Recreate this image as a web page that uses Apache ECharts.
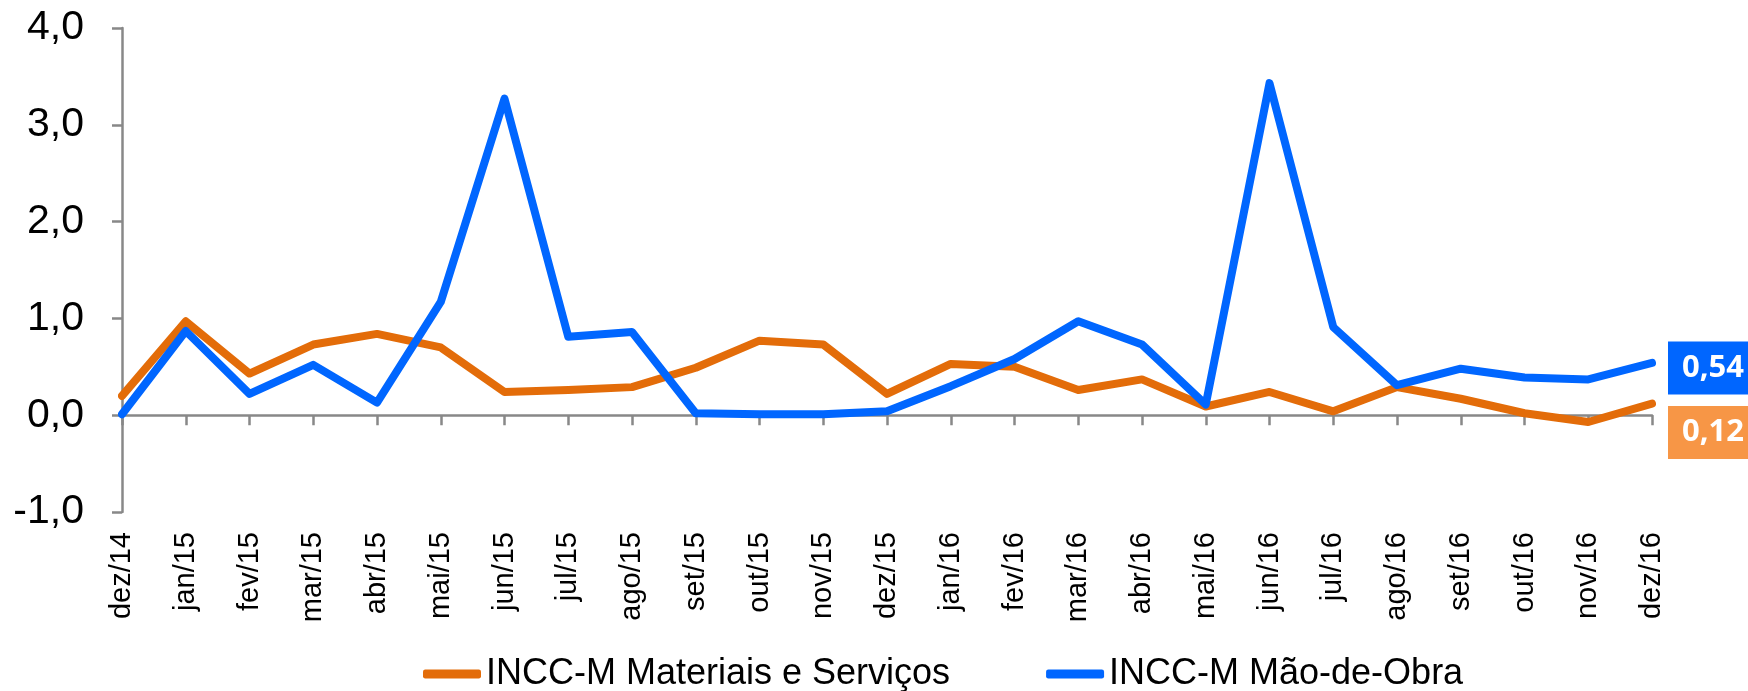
<!DOCTYPE html>
<html lang="pt">
<head>
    <meta charset="UTF-8">
    <title>INCC-M</title>
    <script src="https://cdn.jsdelivr.net/npm/echarts@6/dist/echarts.min.js"></script>
    <style>
        html, body { margin: 0; padding: 0; background: #fff; }
        #chart { width: 1748px; height: 691px; }
    </style>
</head>
<body>
<div id="chart"></div>
<script>
    // meses (eixo x)
    let meses = ['dez/14', 'jan/15', 'fev/15', 'mar/15', 'abr/15', 'mai/15', 'jun/15', 'jul/15', 'ago/15',
        'set/15', 'out/15', 'nov/15', 'dez/15', 'jan/16', 'fev/16', 'mar/16', 'abr/16', 'mai/16', 'jun/16',
        'jul/16', 'ago/16', 'set/16', 'out/16', 'nov/16', 'dez/16'];
    // variação mensal (%)
    let materiais = [0.20, 0.97, 0.43, 0.73, 0.84, 0.70, 0.24, 0.26, 0.29, 0.49, 0.77, 0.73, 0.22,
        0.53, 0.50, 0.26, 0.37, 0.09, 0.24, 0.04, 0.29, 0.17, 0.02, -0.07, 0.12];
    let maoDeObra = [0.01, 0.87, 0.22, 0.52, 0.13, 1.17, 3.27, 0.81, 0.86, 0.02, 0.01, 0.01, 0.04,
        0.30, 0.58, 0.97, 0.73, 0.11, 3.43, 0.91, 0.31, 0.48, 0.39, 0.37, 0.54];
    let nomes = ['INCC-M Materiais e Serviços', 'INCC-M Mão-de-Obra'];

    let fmt = v => v.toFixed(2).replace('.', ',');
    let fonte = 'Liberation Sans, Arial, sans-serif';

    let myChart = echarts.init(document.getElementById('chart'));
    let option = {
        animation: false,
        grid: {left: 122, right: 96, top: 28, bottom: 179},
        legend: {
            left: 418,
            top: 651,
            icon: 'roundRect',
            itemWidth: 58,
            itemHeight: 9,
            itemGap: 96,
            textStyle: {fontFamily: fonte, fontSize: 36, color: '#000'},
            data: nomes
        },
        xAxis: [{
            type: 'category',
            boundaryGap: false,
            data: meses,
            axisLine: {onZero: true, lineStyle: {color: '#888', width: 2.5}},
            axisTick: {show: true, length: 10, lineStyle: {color: '#888', width: 2.5}},
            axisLabel: {show: false}
        }, {
            // só os rótulos, embaixo
            type: 'category',
            boundaryGap: false,
            position: 'bottom',
            data: meses,
            axisLine: {show: false, onZero: false},
            axisTick: {show: false},
            axisLabel: {
                rotate: 90,
                margin: 20,
                interval: 0,
                fontFamily: fonte,
                fontSize: 29,
                color: '#000'
            }
        }],
        yAxis: {
            type: 'value',
            min: -1,
            max: 4,
            interval: 1,
            splitLine: {show: false},
            axisLine: {show: true, lineStyle: {color: '#888', width: 2.5}},
            axisTick: {show: true, length: 10, lineStyle: {color: '#888', width: 2.5}},
            axisLabel: {
                margin: 38,
                fontFamily: fonte,
                fontSize: 41,
                color: '#000',
                formatter: v => v.toFixed(1).replace('.', ',')
            }
        },
        series: [{
            name: nomes[0],
            type: 'line',
            data: materiais,
            symbol: 'none',
            color: '#E36C09',
            lineStyle: {width: 8, cap: 'round', join: 'round'},
            endLabel: {
                show: true,
                distance: 16,
                offset: [0, 29],
                formatter: p => fmt(p.value),
                backgroundColor: '#F79646',
                color: '#fff',
                fontFamily: 'Open Sans, sans-serif',
                fontWeight: 'bold',
                fontSize: 31,
                lineHeight: 32,
                padding: [11, 16, 10, 14]
            }
        }, {
            name: nomes[1],
            type: 'line',
            data: maoDeObra,
            symbol: 'none',
            color: '#0066FF',
            lineStyle: {width: 8, cap: 'round', join: 'round'},
            endLabel: {
                show: true,
                distance: 16,
                offset: [0, 5],
                formatter: p => fmt(p.value),
                backgroundColor: '#0066FF',
                color: '#fff',
                fontFamily: 'Open Sans, sans-serif',
                fontWeight: 'bold',
                fontSize: 31,
                lineHeight: 32,
                padding: [11, 16, 10, 14]
            }
        }]
    };
    myChart.setOption(option);
</script>
</body>
</html>
